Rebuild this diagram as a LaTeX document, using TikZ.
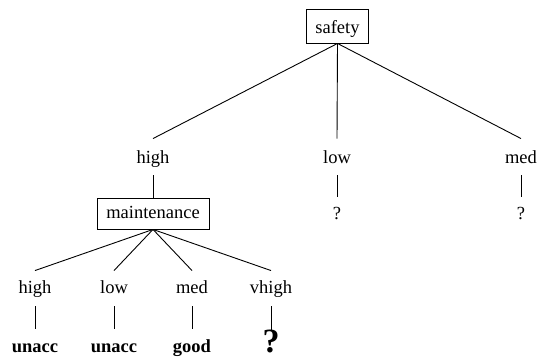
\documentclass[tikz,border=0pt]{standalone}
\usepackage{fontspec}
\setmainfont{Liberation Serif}
\begin{document}
\begin{tikzpicture}[x=1pt,y=-1pt,line width=0.9pt,
  lbl/.style={inner sep=0pt,anchor=base,font=\fontsize{18.5}{22}\selectfont},
  attr/.style={lbl,draw,inner xsep=0pt},
  lvlone/.style={lbl,text height=24pt,text depth=12pt},
  lvltwo/.style={lbl,text height=22pt,text depth=13pt},
  unknown/.style={lbl,text height=22pt,text depth=2pt},
  leaf/.style={lbl,font=\fontsize{18.5}{22}\selectfont\bfseries,text height=23pt,text depth=2pt},
  bigleaf/.style={lbl,font=\fontsize{34}{38}\selectfont\bfseries,text height=22pt,text depth=2pt}]
\useasboundingbox (0,0) rectangle (538,356);

% root attribute
\node[attr,minimum width=62pt,text height=24pt,text depth=10pt] (safety) at (337.5,33) {safety};

% safety values
\node[lvlone] (sh) at (153,163) {high};
\node[lvlone] (sl) at (337,163) {low};
\node[lvlone] (sm) at (521,163) {med};
\node[unknown] (ql) at (337,219) {?};
\node[unknown] (qm) at (521,219) {?};

% second attribute
\node[attr,minimum width=112pt,text height=20pt,text depth=11pt] (maint) at (153,218) {maintenance};

% maintenance values
\node[lvltwo] (mh) at (35,293) {high};
\node[lvltwo] (ml) at (114,293) {low};
\node[lvltwo] (mm) at (192,293) {med};
\node[lvltwo] (mv) at (271,293) {vhigh};

% outcomes
\node[leaf] (c1) at (35,352) {unacc};
\node[leaf] (c2) at (114,352) {unacc};
\node[leaf] (c3) at (192,352) {good};
\node[bigleaf] (c4) at (271,352) {?};

% branches
\draw (safety.south) -- (sh.north);
\draw (safety.south) -- (sl.north);
\draw (safety.south) -- (sm.north);
\draw (sl.south) -- (ql.north);
\draw (sm.south) -- (qm.north);
\draw (sh.south) -- (maint.north);
\draw (maint.south) -- (mh.north);
\draw (maint.south) -- (ml.north);
\draw (maint.south) -- (mm.north);
\draw (maint.south) -- (mv.north);
\draw (mh.south) -- (c1.north);
\draw (ml.south) -- (c2.north);
\draw (mm.south) -- (c3.north);
\draw (mv.south) -- (c4.north);
\end{tikzpicture}
\end{document}
